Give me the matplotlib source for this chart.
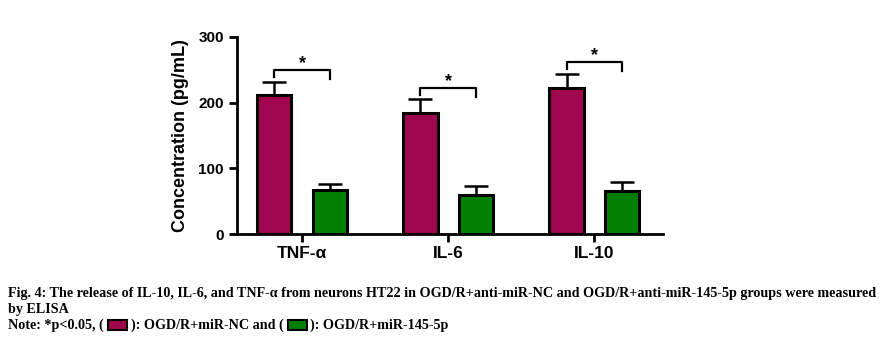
import matplotlib
matplotlib.use("Agg")
import matplotlib.pyplot as plt
from matplotlib.patches import Rectangle
import numpy as np

categories = ["TNF-α", "IL-6", "IL-10"]
nc_values = [212, 185, 223]
nc_errors = [20, 20, 21]
mir_values = [67, 59, 66]
mir_errors = [9, 14, 13]
yticks = [0, 100, 200, 300]
sig_labels = ["*", "*", "*"]
bracket_heights = [250, 223, 262]
legend_labels = ["OGD/R+miR-NC", "OGD/R+miR-145-5p"]
caption1 = "Fig. 4: The release of IL-10, IL-6, and TNF-α from neurons HT22 in OGD/R+anti-miR-NC and OGD/R+anti-miR-145-5p groups were measured"
caption2 = "by ELISA"

red = "#A0064E"
green = "#008000"

W, H = 883, 338
fig = plt.figure(figsize=(W / 100, H / 100), dpi=100)
ax = fig.add_axes([237 / W, 1 - 234 / H, (663 - 237) / W, (234 - 37) / H])

x = np.arange(len(categories))
off = 0.19
bw = 0.235
ax.bar(x - off, nc_values, bw, color=red, edgecolor="black", linewidth=2.2, zorder=3)
ax.bar(x + off, mir_values, bw, color=green, edgecolor="black", linewidth=2.2, zorder=3)
ax.errorbar(x - off, nc_values, yerr=[np.zeros(3), nc_errors], fmt="none", ecolor="black",
            elinewidth=1.8, capsize=8.5, capthick=1.8, zorder=2)
ax.errorbar(x + off, mir_values, yerr=[np.zeros(3), mir_errors], fmt="none", ecolor="black",
            elinewidth=1.8, capsize=8.5, capthick=1.8, zorder=2)

for i, h in enumerate(bracket_heights):
    ax.plot([x[i] - off, x[i] - off, x[i] + off, x[i] + off], [h - 11, h, h, h - 14],
            color="black", lw=1.6, clip_on=False)
    ax.text(x[i], h + 9, sig_labels[i], ha="center", va="center", fontsize=13,
            fontweight="bold", family="Liberation Sans")

ax.set_xlim(-0.445, 2.47)
ax.set_ylim(0, 300)
ax.set_yticks(yticks)
ax.set_xticks(x)
ax.set_xticklabels(categories)
for s in ["top", "right"]:
    ax.spines[s].set_visible(False)
for s in ["left", "bottom"]:
    ax.spines[s].set_linewidth(2)
ax.tick_params(axis="both", width=2, length=6, direction="out")
for lab in ax.get_yticklabels():
    lab.set_fontweight("bold"); lab.set_fontsize(11); lab.set_family("Liberation Sans")
for lab in ax.get_xticklabels():
    lab.set_fontweight("bold"); lab.set_fontsize(12.5); lab.set_family("Liberation Sans")
ax.tick_params(axis="x", pad=3)
ax.set_ylabel("Concentration (pg/mL)", fontsize=13, fontweight="bold",
              family="Liberation Sans", labelpad=7)

# Caption
cap_kw = dict(family="Liberation Serif", fontweight="bold", fontsize=10.2)
fig.text(8 / W, 1 - 293 / H, caption1, ha="left", va="center", **cap_kw)
fig.text(8 / W, 1 - 309 / H, caption2, ha="left", va="center", **cap_kw)

renderer = fig.canvas.get_renderer()
cur = 8.0
yline = 1 - 325 / H
def put(s):
    global cur
    t = fig.text(cur / W, yline, s, ha="left", va="center", **cap_kw)
    bb = t.get_window_extent(renderer)
    cur += bb.width
def box(color):
    global cur
    cur += 4
    fig.patches.append(Rectangle((cur / W, yline - 5 / H), 19 / W, 10 / H,
                                 transform=fig.transFigure, facecolor=color,
                                 edgecolor="black", linewidth=1.5))
    cur += 23

put("Note: *p<0.05, (")
box(red)
put("): " + legend_labels[0] + " and (")
box(green)
put("): " + legend_labels[1])

fig.savefig("out.png", dpi=100)
